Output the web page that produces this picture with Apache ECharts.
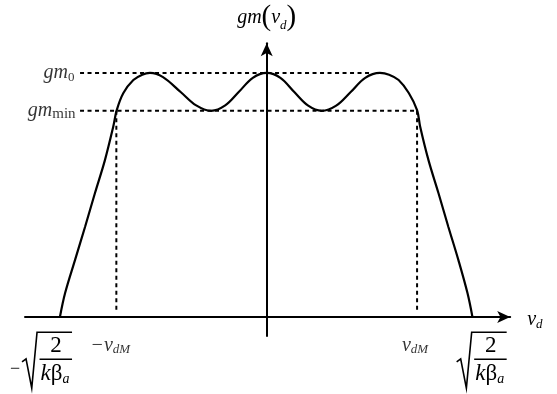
<!DOCTYPE html>
<html>
<head>
<meta charset="utf-8">
<script src="https://cdn.jsdelivr.net/npm/echarts@6/dist/echarts.min.js"></script>
<style>
html, body { margin: 0; padding: 0; background: #fff; }
#main { width: 557px; height: 394px; }
</style>
</head>
<body>
<div id="main"></div>
<script>
// gm(vd) curve: x in units of sqrt(2/(k*beta_a)), y in units of gm0
var curveX = [-0.997, -0.972, -0.924, -0.876, -0.828, -0.780, -0.740, -0.723, -0.691, -0.643, -0.600, -0.563,
	-0.500, -0.415, -0.340, -0.268, -0.200, -0.135, -0.067, 0,
	0.066, 0.133, 0.200, 0.265, 0.335, 0.405, 0.475, 0.546,
	0.590, 0.636, 0.685, 0.725, 0.740, 0.780, 0.828, 0.876, 0.924, 0.968, 0.992];
var curveY = [0, 0.098, 0.234, 0.369, 0.508, 0.643, 0.780, 0.848, 0.918, 0.971, 0.993, 1.0,
	0.983, 0.922, 0.867, 0.845, 0.867, 0.922, 0.980, 1.0,
	0.980, 0.922, 0.866, 0.845, 0.866, 0.922, 0.980, 1.0,
	0.993, 0.971, 0.918, 0.848, 0.780, 0.643, 0.508, 0.369, 0.234, 0.098, 0];

var gm0 = 1;
var gmMin = 0.845;
var vdM = 0.725;
var vEdge = 0.995;
var dashStart = -0.90;
var gm0DashEnd = 0.51;
var vdMDashBottom = 0.022;

var serif = "'Liberation Serif', 'Times New Roman', serif";
var dash = [4, 3.5];

var myChart = echarts.init(document.getElementById('main'));

function pairs(xs, ys) {
	return xs.map(function (x, i) { return [x, ys[i]]; });
}

function dashSeries(data) {
	return {
		type: 'line',
		data: data,
		symbol: 'none',
		silent: true,
		lineStyle: { color: '#000', width: 2, type: dash }
	};
}

var richStyles = {
	i: { fontFamily: serif, fontStyle: 'italic', fontSize: 20, lineHeight: 22, color: '#000' },
	s: { fontFamily: serif, fontSize: 13, lineHeight: 13, verticalAlign: 'bottom', color: '#000' },
	si: { fontFamily: serif, fontStyle: 'italic', fontSize: 13, lineHeight: 13, verticalAlign: 'bottom', color: '#000' },
	m: { fontFamily: serif, fontSize: 15, lineHeight: 13, verticalAlign: 'bottom', color: '#000' },
	p: { fontFamily: serif, fontSize: 29, lineHeight: 29, color: '#000' }
};

function labelSeries(point, pos, dist, text, offset) {
	return {
		type: 'scatter',
		symbolSize: 1,
		silent: true,
		itemStyle: { color: 'rgba(0,0,0,0)' },
		data: [point],
		label: {
			show: true,
			position: pos,
			distance: dist,
			offset: offset || [0, 0],
			color: '#000',
			formatter: text,
			rich: richStyles
		}
	};
}

var option = {
	backgroundColor: '#fff',
	animation: false,
	grid: { left: 25, right: 46.8, top: 43.2, bottom: 58, containLabel: false, outerBoundsMode: 'none' },
	xAxis: {
		type: 'value',
		min: -1.1654,
		max: 1.174,
		name: '{i|v}{si|d}',
		nameLocation: 'end',
		nameGap: 17,
		nameTextStyle: { rich: richStyles, padding: [6, 0, 0, 0] },
		axisLine: { onZero: true, symbol: ['none', 'arrow'], symbolSize: [9, 13], lineStyle: { color: '#000', width: 2 } },
		axisTick: { show: false },
		axisLabel: { show: false },
		splitLine: { show: false }
	},
	yAxis: {
		type: 'value',
		min: -0.0779,
		max: 1.122,
		name: '{i|gm}{p|(}{i|v}{si|d}{p|)}',
		nameLocation: 'end',
		nameGap: 11,
		nameTextStyle: { rich: richStyles },
		axisLine: { onZero: true, symbol: ['none', 'arrow'], symbolSize: [9, 13], lineStyle: { color: '#000', width: 2 } },
		axisTick: { show: false },
		axisLabel: { show: false },
		splitLine: { show: false }
	},
	series: [
		{
			type: 'line',
			data: pairs(curveX, curveY),
			smooth: 0.35,
			symbol: 'none',
			silent: true,
			lineStyle: { color: '#000', width: 2.2 }
		},
		dashSeries([[dashStart, gm0], [gm0DashEnd, gm0]]),
		dashSeries([[dashStart, gmMin], [vdM, gmMin]]),
		dashSeries([[-vdM, gmMin], [-vdM, vdMDashBottom]]),
		dashSeries([[vdM, gmMin], [vdM, vdMDashBottom]]),
		labelSeries([dashStart, gm0], 'left', 5, '{i|gm}{s|0}'),
		labelSeries([dashStart, gmMin], 'left', 4, '{i|gm}{m|min}'),
		labelSeries([-vdM, 0], 'bottom', 17, '{i|−v}{si|dM}', [-6, 0]),
		labelSeries([vdM, 0], 'bottom', 17, '{i|v}{si|dM}', [-2, 0])
	]
};

myChart.setOption(option);

// radical labels -sqrt(2/(k beta_a)) and sqrt(2/(k beta_a)) at the curve's zero crossings
function radical(cx, cy, minus) {
	var stroke = { stroke: '#000', lineWidth: 1.6, fill: null };
	var kids = [
		{ type: 'polyline', shape: { points: [[cx - 15, cy + 29.5], [cx - 11, cy + 26.5], [cx - 5.3, cy + 55.8], [cx, cy], [cx + 35, cy]] }, style: stroke },
		{ type: 'line', shape: { x1: cx + 2.5, y1: cy + 27, x2: cx + 35, y2: cy + 27 }, style: stroke },
		{ type: 'text', x: cx + 19, y: cy + 13.5, style: { text: '2', fontFamily: serif, fontSize: 23, fill: '#000', align: 'center', verticalAlign: 'middle' } },
		{ type: 'text', x: cx + 18, y: cy + 42, style: {
			text: '{k|k}{b|β}{a|a}', align: 'center', verticalAlign: 'middle',
			rich: {
				k: { fontFamily: serif, fontStyle: 'italic', fontSize: 23, lineHeight: 24, fill: '#000' },
				b: { fontFamily: serif, fontSize: 23, lineHeight: 24, fill: '#000' },
				a: { fontFamily: serif, fontStyle: 'italic', fontSize: 14, lineHeight: 14, verticalAlign: 'bottom', fill: '#000' }
			}
		} }
	];
	if (minus) {
		kids.push({ type: 'text', x: cx - 22, y: cy + 37, style: { text: '−', fontFamily: serif, fontSize: 18, fill: '#000', align: 'center', verticalAlign: 'middle' } });
	}
	return { type: 'group', silent: true, children: kids };
}

var pl = myChart.convertToPixel({ gridIndex: 0 }, [-vEdge, 0]);
var pr = myChart.convertToPixel({ gridIndex: 0 }, [vEdge, 0]);
myChart.setOption({
	graphic: [
		radical(pl[0] - 23.3, pl[1] + 15.3, true),
		radical(pr[0] - 1.4, pr[1] + 15.3, false)
	]
});
</script>
</body>
</html>
